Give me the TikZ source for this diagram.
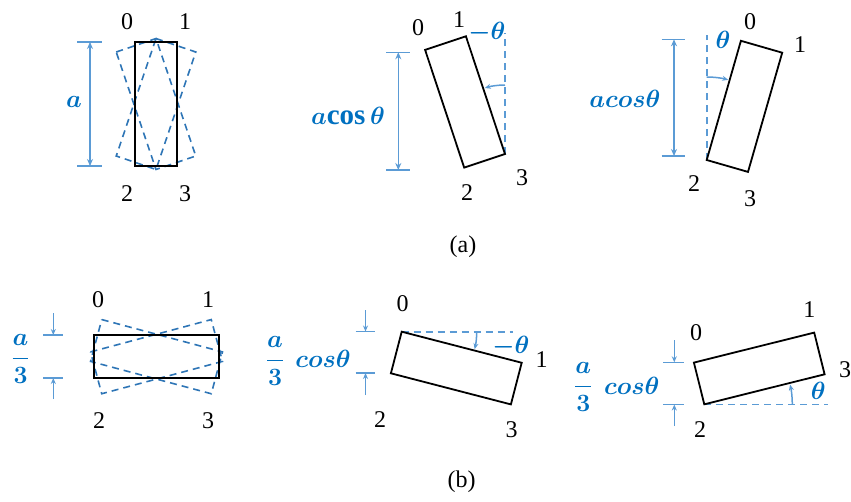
\documentclass[tikz,border=0pt]{standalone}
\usepackage{fontspec}
\setmainfont{Liberation Serif}
\usetikzlibrary{arrows.meta,calc}
\definecolor{dimblue}{HTML}{5B9BD5}
\definecolor{dashblue}{HTML}{2E75B6}
\definecolor{txtblue}{HTML}{0070C0}
\begin{document}
\begin{tikzpicture}[x=1pt,y=-1pt,
  body/.style={draw=black,line width=1.8pt,line join=miter},
  ghost/.style={draw=dashblue,line width=1.6pt,dash pattern=on 7pt off 5pt},
  guide/.style={draw=dimblue,line width=1.6pt,dash pattern=on 7pt off 5pt},
  dimline/.style={draw=dimblue,line width=1.5pt},
  corner/.style={font=\fontsize{24}{26}\selectfont,inner sep=0pt},
  mlabel/.style={text=txtblue,font=\fontsize{29}{31}\selectfont\boldmath,inner sep=0pt},
  flabel/.style={text=txtblue,font=\fontsize{28}{30}\selectfont\boldmath,inner sep=0pt},
  caption/.style={font=\fontsize{24}{26}\selectfont,inner sep=0pt}]
\useasboundingbox (0,0) rectangle (851,501);

% ===== (a) left =====
\draw[ghost, rotate around={18.7:(156,104)}] (135,42) -- (177,42) -- (177,166) -- (135,166) -- cycle;
\draw[ghost, rotate around={-18.7:(156,104)}] (135,42) -- (177,42) -- (177,166) -- (135,166) -- cycle;
\coordinate (LA) at (135,42);
\coordinate (LB) at (177,166);
\draw[body] (LA) rectangle (LB);
\coordinate (d1t) at (90,42); \coordinate (d1b) at (90,166);
\draw[dimline] (77,42) -- (102,42) (77,166) -- (102,166);
\draw[dimline,{Stealth[length=7pt,width=6pt]}-{Stealth[length=7pt,width=6pt]}] (d1t) -- (d1b);
\node[mlabel] (la) at (74,102) {$a$};
\node[corner] (l0) at (127,22) {0};
\node[corner] (l1) at (185,22) {1};
\node[corner] (l2) at (127,194) {2};
\node[corner] (l3) at (185,194) {3};

% ===== (a) middle =====
\coordinate (m0) at (425.1,49.9);
\coordinate (m1) at (465.9,36.3);
\coordinate (m3) at (505,154);
\coordinate (m2) at (464.2,167.6);
\coordinate (mtop) at (505,33);
\draw[guide] (m3) -- (mtop);
\draw[body] (m0) -- (m1) -- (m3) -- (m2) -- cycle;
\draw[dimline,-{Stealth[length=6pt,width=5pt]}] (m3) ++(-90:69) arc[start angle=-90,end angle=-107,radius=69];
\draw[dimline] (386,52.3) -- (410,52.3) (386,170) -- (410,170);
\coordinate (d2t) at (398.3,52.3); \coordinate (d2b) at (398.3,170);
\draw[dimline,{Stealth[length=7pt,width=6pt]}-{Stealth[length=7pt,width=6pt]}] (d2t) -- (d2b);
\node[mlabel] (macos) at (348,116) {$a\mathrm{cos}\,\theta$};
\node[mlabel] (mth) at (487,33) {$-\theta$};
\node[corner] (n0) at (418,28) {0};
\node[corner] (n1) at (459,20) {1};
\node[corner] (n3) at (522,178) {3};
\node[corner] (n2) at (467,193) {2};

% ===== (a) right =====
\coordinate (r2) at (706.7,160);
\coordinate (r0) at (740.9,40.8);
\coordinate (r1) at (782.2,52.7);
\coordinate (r3) at (748,171.9);
\coordinate (rtop) at (706.7,35);
\draw[guide] (r2) -- (rtop);
\draw[body] (r0) -- (r1) -- (r3) -- (r2) -- cycle;
\draw[dimline,-{Stealth[length=6pt,width=5pt]}] (r2) ++(-90:83) arc[start angle=-90,end angle=-75,radius=83];
\draw[dimline] (661.7,39.3) -- (685,39.3) (661.7,156) -- (685,156);
\coordinate (d3t) at (674,39.3); \coordinate (d3b) at (674,156);
\draw[dimline,{Stealth[length=7pt,width=6pt]}-{Stealth[length=7pt,width=6pt]}] (d3t) -- (d3b);
\node[mlabel] (racos) at (625,99) {$acos\theta$};
\node[mlabel] (rth) at (723,40) {$\theta$};
\node[corner] (s0) at (750,22) {0};
\node[corner] (s1) at (800,45) {1};
\node[corner] (s2) at (694,184) {2};
\node[corner] (s3) at (750,199) {3};

\node[caption] (capa) at (463,247) {(a)};

% ===== (b) left =====
\draw[ghost, rotate around={15:(156.5,356.7)}] (94,335) -- (219,335) -- (219,378.3) -- (94,378.3) -- cycle;
\draw[ghost, rotate around={-15:(156.5,356.7)}] (94,335) -- (219,335) -- (219,378.3) -- (94,378.3) -- cycle;
\coordinate (BA) at (94,335);
\coordinate (BB) at (219,378.3);
\draw[body] (BA) rectangle (BB);
\draw[dimline] (43,335) -- (63,335) (43,378) -- (63,378);
\coordinate (e1a) at (53.3,313); \coordinate (e1b) at (53.3,335);
\coordinate (e1c) at (53.3,399); \coordinate (e1d) at (53.3,378);
\draw[dimline,-{Stealth[length=6pt,width=5pt]}] (e1a) -- (e1b);
\draw[dimline,-{Stealth[length=6pt,width=5pt]}] (e1c) -- (e1d);
\node[flabel] (bfa) at (20.5,359) {$\displaystyle\frac{a}{3}$};
\node[corner] (t0) at (98,300) {0};
\node[corner] (t1) at (208,300) {1};
\node[corner] (t2) at (99,421) {2};
\node[corner] (t3) at (208,421) {3};

% ===== (b) middle =====
\coordinate (p0) at (401.7,331.7);
\coordinate (p1) at (521.7,362.75);
\coordinate (p3) at (510.9,404.4);
\coordinate (p2) at (390.9,373.3);
\coordinate (pend) at (513.3,331.7);
\draw[guide] (p0) -- (pend);
\draw[body] (p0) -- (p1) -- (p3) -- (p2) -- cycle;
\draw[dimline,-{Stealth[length=6pt,width=5pt]}] (p0) ++(0:75) arc[start angle=0,end angle=13.5,radius=75];
\draw[dimline] (355.7,331.5) -- (375.3,331.5) (355.7,373) -- (375.3,373);
\coordinate (e2a) at (365.5,310); \coordinate (e2b) at (365.5,331.5);
\coordinate (e2c) at (365.5,395); \coordinate (e2d) at (365.5,373);
\draw[dimline,-{Stealth[length=6pt,width=5pt]}] (e2a) -- (e2b);
\draw[dimline,-{Stealth[length=6pt,width=5pt]}] (e2c) -- (e2d);
\node[flabel] (pfa) at (275,361) {$\displaystyle\frac{a}{3}$};
\node[mlabel] (pcos) at (323,359) {$cos\theta$};
\node[mlabel] (pth) at (511,346.7) {$-\theta$};
\node[corner] (u0) at (402.7,303.3) {0};
\node[corner] (u1) at (541.7,360) {1};
\node[corner] (u2) at (380,420) {2};
\node[corner] (u3) at (511.7,429.3) {3};

% ===== (b) right =====
\coordinate (q2) at (704.3,404.3);
\coordinate (q3) at (824.6,374.3);
\coordinate (q1) at (814.2,332.6);
\coordinate (q0) at (693.9,362.6);
\coordinate (qend) at (828.3,404.3);
\draw[guide] (q2) -- (qend);
\draw[body] (q0) -- (q1) -- (q3) -- (q2) -- cycle;
\draw[dimline,-{Stealth[length=6pt,width=5pt]}] (q2) ++(0:88) arc[start angle=0,end angle=-13,radius=88];
\draw[dimline] (663.3,362.3) -- (684,362.3) (663.3,404.5) -- (684,404.5);
\coordinate (e3a) at (674.3,340); \coordinate (e3b) at (674.3,362.3);
\coordinate (e3c) at (674.3,426) ; \coordinate (e3d) at (674.3,404.5);
\draw[dimline,-{Stealth[length=6pt,width=5pt]}] (e3a) -- (e3b);
\draw[dimline,-{Stealth[length=6pt,width=5pt]}] (e3c) -- (e3d);
\node[flabel] (qfa) at (583.3,387) {$\displaystyle\frac{a}{3}$};
\node[mlabel] (qcos) at (631.7,386) {$cos\theta$};
\node[mlabel] (qth) at (818.3,391) {$\theta$};
\node[corner] (v0) at (696,332.7) {0};
\node[corner] (v1) at (809.3,309.3) {1};
\node[corner] (v3) at (845,370) {3};
\node[corner] (v2) at (700,430) {2};

\node[caption] (capb) at (461.7,482) {(b)};
\end{tikzpicture}
\end{document}
